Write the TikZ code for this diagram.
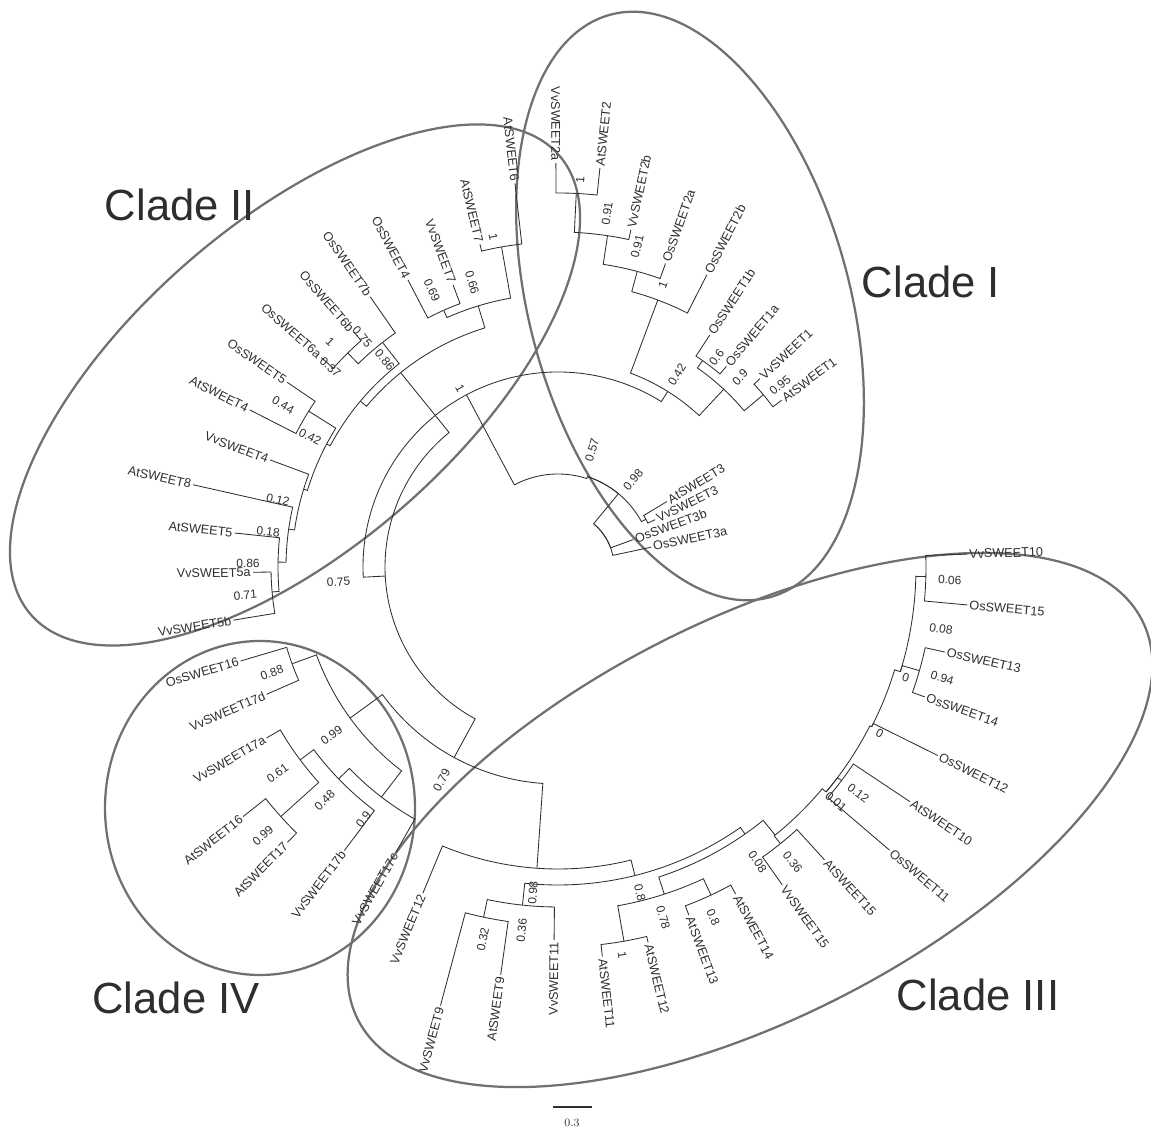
\documentclass[tikz,border=0pt]{standalone}
\usepackage{fontspec}
\setsansfont{Liberation Sans}
\definecolor{treegray}{HTML}{2E2E2E}
\definecolor{ringgray}{HTML}{707070}

% polar tree helpers: a node stores its angle and radius
\newcommand\tnode[3]{%
  \coordinate (#1) at (#2:#3);%
  \expandafter\xdef\csname tA-#1\endcsname{#2}%
  \expandafter\xdef\csname tR-#1\endcsname{#3}}
% elbow connector: arc at the parent radius, then radial to the child
\newcommand\tedge[2]{%
  \edef\tpa{\csname tA-#1\endcsname}%
  \edef\tca{\csname tA-#2\endcsname}%
  \edef\tpr{\csname tR-#1\endcsname}%
  \draw[treeline] (#1) arc[start angle=\tpa, end angle=\tca, radius=\tpr] -- (#2);}

\begin{document}
\begin{tikzpicture}[
    x=0.025cm, y=0.025cm,
    treeline/.style={draw=treegray, line width=0.6pt},
    leafR/.style={anchor=west, inner sep=1.5pt, font=\sffamily\fontsize{9}{9}\selectfont, text=treegray},
    leafL/.style={anchor=east, inner sep=1.5pt, font=\sffamily\fontsize{9}{9}\selectfont, text=treegray},
    suppval/.style={inner sep=0pt, font=\sffamily\fontsize{8.5}{8.5}\selectfont, text=treegray},
    cladering/.style={draw=ringgray, line width=1.6pt},
    cladelabel/.style={font=\sffamily\fontsize{31}{31}\selectfont, text=treegray},
]
\useasboundingbox (0,0) rectangle (1151,1135);

% clade rings
\draw[cladering] (690,829) ellipse [x radius=302, y radius=160, rotate=-74.6];
\draw[cladering] (295,750) ellipse [x radius=350, y radius=163, rotate=41];
\draw[cladering] (750,315) ellipse [x radius=440, y radius=199, rotate=27];
\draw[cladering] (260,327) ellipse [x radius=155, y radius=167];

\begin{scope}[shift={(558,568)}]
% leaves, labels to the right
\foreach \nm/\ta/\tr in {AtSWEET2/84/401, VvSWEET2b/77.8/345, OsSWEET2a/70.5/322,
    OsSWEET2b/63/328, OsSWEET1b/56.8/277, OsSWEET1a/50/262, VvSWEET1/43/276,
    AtSWEET1/36.7/279, AtSWEET3/31/127, VvSWEET3/26/108, OsSWEET3b/20/80,
    OsSWEET3a/12/95, AtSWEET11/276.5/392, AtSWEET12/283.5/386, AtSWEET13/290.6/372,
    AtSWEET14/298.5/372, VvSWEET15/305.2/389, AtSWEET15/312.3/396, OsSWEET11/319.5/436,
    AtSWEET10/326.3/423, OsSWEET12/333.6/424, OsSWEET14/340.5/389, OsSWEET13/347.6/396,
    OsSWEET15/354.7/411, VvSWEET10/361.8/409}
  {\tnode{\nm}{\ta}{\tr}\node[leafR, rotate=\ta] (\nm-t) at (\nm) {\nm};}
% leaves, labels to the left
\foreach \nm/\ta/\tr in {VvSWEET2a/90.3/404, AtSWEET6/96.4/386, AtSWEET7/103.6/332,
    VvSWEET7/110.4/301, OsSWEET4/117.6/324, OsSWEET7b/124.8/329, OsSWEET6b/131/312,
    OsSWEET6a/138.5/316, OsSWEET5/145.7/328, AtSWEET4/153/346, VvSWEET4/159.6/307,
    AtSWEET8/167.3/374, AtSWEET5/174/325, VvSWEET5a/181/305, VvSWEET5b/189.3/329,
    OsSWEET16/196.5/331, VvSWEET17d/203.6/318, VvSWEET17a/210.4/338, AtSWEET16/218.4/402,
    AtSWEET17/225.5/386, VvSWEET17b/233/355, VvSWEET17c/240.4/328, VvSWEET12/247.5/353,
    VvSWEET9/255/454, AtSWEET9/262/412, VvSWEET11/269.4/373}
  {\tnode{\nm}{\ta}{\tr}\node[leafL, rotate={\ta-180}] (\nm-t) at (\nm) {\nm};}
% inner nodes
\foreach \nm/\ta/\tr in {root/95/93, S3/72/95, V98/28.5/100, Os3p/50.5/56, N1/118/195,
    NI/58/207, P3/69.5/285, P2/75/306, P1/81.5/335, Pr/87.2/374, S1/47/243,
    Os1p/55/252, AV1/40/268, N075/183/173, C2/129/250, IIa/107/273, At67/100/325,
    OV/114/281, K1/140/258, G1/128/285, Os6p/134.5/300, K2/152/262, P44/148/294,
    K3/163/266, K4/172/272, K5/179/280, P71/185/287, C34/241.4/217, C4/216/257,
    OV16/200/283, X4/232.5/290, Q48/224/305, Q61/216.8/322, AtP/222/373, C3/266/302,
    C3b/284/318, G911/264/340, G9/258/358, C3c/305/326, H3/288/344, P1112/280/380,
    P1314/295/362, R2/309/345, V15/308.8/355, L1/320/350, P1011/323/355, L2/333/352,
    L3/343/358, Q94/344/376, Q06/358.5/368}
  {\tnode{\nm}{\ta}{\tr}}
% branches
\foreach \p/\c in {root/N1, root/S3, S3/V98, S3/Os3p, V98/AtSWEET3, V98/VvSWEET3,
    Os3p/OsSWEET3b, Os3p/OsSWEET3a, N1/NI, N1/N075, NI/P3, NI/S1, P3/P2, P3/OsSWEET2b,
    P2/P1, P2/OsSWEET2a, P1/Pr, P1/VvSWEET2b, Pr/VvSWEET2a, Pr/AtSWEET2, S1/Os1p, S1/AV1,
    Os1p/OsSWEET1b, Os1p/OsSWEET1a, AV1/VvSWEET1, AV1/AtSWEET1,
    N075/C2, N075/C34, C2/IIa, C2/K1, IIa/At67, IIa/OV, At67/AtSWEET6, At67/AtSWEET7,
    OV/OsSWEET4, OV/VvSWEET7, K1/G1, K1/K2, G1/OsSWEET7b, G1/Os6p, Os6p/OsSWEET6b,
    Os6p/OsSWEET6a, K2/P44, K2/K3, P44/OsSWEET5, P44/AtSWEET4, K3/VvSWEET4, K3/K4,
    K4/AtSWEET8, K4/K5, K5/AtSWEET5, K5/P71, P71/VvSWEET5a, P71/VvSWEET5b,
    C34/C4, C34/C3, C4/OV16, C4/X4, OV16/OsSWEET16, OV16/VvSWEET17d, X4/Q48,
    X4/VvSWEET17c, Q48/Q61, Q48/VvSWEET17b, Q61/VvSWEET17a, Q61/AtP, AtP/AtSWEET16,
    AtP/AtSWEET17, C3/VvSWEET12, C3/C3b, C3b/G911, C3b/C3c, G911/G9, G911/VvSWEET11,
    G9/VvSWEET9, G9/AtSWEET9, C3c/H3, C3c/R2, H3/P1112, H3/P1314, P1112/AtSWEET11,
    P1112/AtSWEET12, P1314/AtSWEET13, P1314/AtSWEET14, R2/V15, R2/L1, V15/VvSWEET15,
    V15/AtSWEET15, L1/P1011, L1/L2, P1011/OsSWEET11, P1011/AtSWEET10, L2/OsSWEET12,
    L2/L3, L3/Q94, L3/Q06, Q94/OsSWEET14, Q94/OsSWEET13, Q06/OsSWEET15, Q06/VvSWEET10}
  {\tedge{\p}{\c}}
% support values
\foreach \nm/\ta/\tr/\tx in {sPr/86.7/388/1, sP1/82.1/357/0.91, sP2/76.1/330/0.91,
    sP3/69.6/301/1, sNI/58.2/226/0.42, sOs1p/52.9/263/0.6, sS1/46.2/263/0.9,
    sAV1/39.3/287/0.95, sS3/73.8/122/0.57, sV98/49.2/115/0.98, sN1/118.7/204/1,
    sAt67/101.1/336/1, sIIa/106.8/297/0.66, sOV/114.5/304/0.69, sG1/130.4/302/0.75,
    sOs6p/135.4/320/1, sK1/129.9/270/0.86, sK2/138.7/303/0.37, sP44/149.5/319/0.44,
    sK3/152.3/280/0.42, sK4/166.5/288/0.12, sK5/173.1/292/0.18, sK6/179.3/310/0.86,
    sP71/185.1/314/0.71, sN075/183.9/220/0.75, sOV16/200.3/305/0.88, sC4/216.6/282/0.99,
    sQ61/216.3/348/0.61, sQ48/225/330/0.48, sAtP/222.3/399/0.99, sX4/232.4/319/0.9,
    sC34/241.4/243/0.79, sG9/258.6/380/0.32, sG911/264.3/365/0.36, sC3b/265.6/327/0.98,
    sH3/284.1/336/0.8, sH3b/286.7/366/0.78, sP1314/293.9/383/0.8, sP1112/279.4/393/1,
    sR2/304.1/356/0.08, sV15/308.5/377/0.36, sL1/319.8/364/0.01, sP1011/323/376/0.12,
    sL2/332.7/362/0, sL3/342.3/365/0, sQ94/343.9/400/0.94, sQ06b/350.8/388/0.08,
    sQ06/358.1/392/0.06}
  {\pgfmathsetmacro\srot{\ta-180*and(\ta>90,\ta<270)}%
   \node[suppval, rotate=\srot] (\nm) at (\ta:\tr) {\tx};}
\end{scope}

% clade names
\node[cladelabel] (lab-I) at (931,853) {Clade I};
\node[cladelabel] (lab-II) at (180,930) {Clade II};
\node[cladelabel] (lab-III) at (978,140) {Clade III};
\node[cladelabel] (lab-IV) at (176,137) {Clade IV};

% scale bar
\coordinate (sb-l) at (553,28);
\coordinate (sb-r) at (592,28);
\draw[treeline, line width=0.8pt] (sb-l) -- (sb-r);
\node[font=\fontsize{8}{8}\selectfont, text=treegray] (sb-t) at (572,12) {0.3};
\end{tikzpicture}
\end{document}
